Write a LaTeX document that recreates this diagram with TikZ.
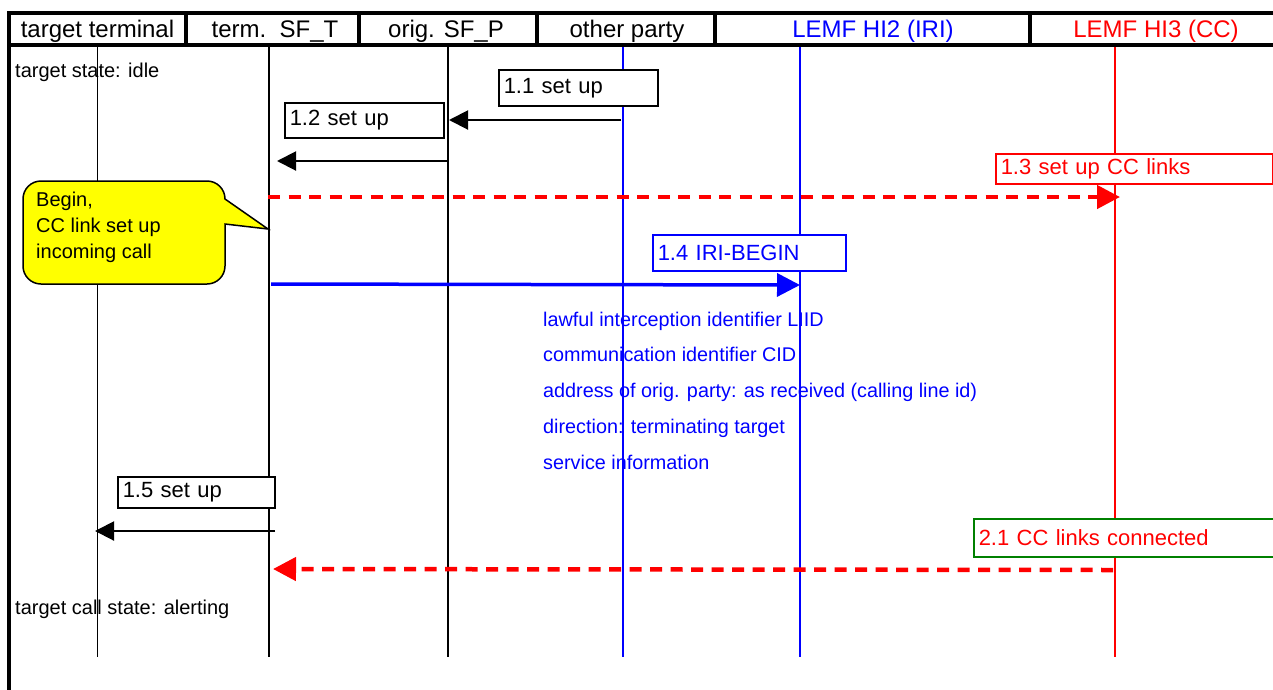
\documentclass[tikz,border=0pt]{standalone}
\usepackage{fontspec}
\setmainfont{Liberation Sans}
\usetikzlibrary{arrows.meta}
\definecolor{cblue}{RGB}{0,0,255}
\definecolor{cred}{RGB}{255,0,0}
\definecolor{cgreen}{RGB}{0,128,0}
\definecolor{cyellow}{RGB}{255,255,0}
\tikzset{
  hdr/.style={font=\fontsize{24}{28}\selectfont, anchor=base, inner sep=0pt},
  life/.style={line width=1.5pt},
  frameline/.style={line width=4.5pt},
  divider/.style={line width=3.5pt},
  msgbox/.style={draw, fill=white, line width=1.5pt, anchor=north west, align=left,
    inner xsep=5pt, inner ysep=0pt, font=\fontsize{22}{26}\selectfont},
  note/.style={font=\fontsize{20}{24}\selectfont, inner sep=0pt, anchor=base west},
  blackarrow/.style={line width=2pt, -{Triangle[length=19pt,width=19pt]}},
  redarrow/.style={draw=cred, line width=4.5pt, dash pattern=on 12pt off 8.5pt,
    -{Triangle[length=23pt,width=23pt]}},
  bluearrow/.style={draw=cblue, line width=3.5pt, -{Triangle[length=23pt,width=23pt]}},
}
\begin{document}
\begin{tikzpicture}[x=1pt,y=-1pt]
\useasboundingbox (0,0) rectangle (1273,689);
\clip (0,0) rectangle (1273,689);

% frame and header
\draw[frameline] (9,13) -- (1290,13);
\draw[line width=4pt] (9,45) -- (1290,45);
\draw[frameline] (9,11) -- (9,700);
\foreach \xx in {186,359,537,715,1030}
  \draw[divider] (\xx,13) -- (\xx,45);

\node[hdr] (hTT) at (97.5,37) {target terminal};
\node[hdr] (hST) at (275,37) {term.\ \ SF\_T};
\node[hdr] (hSP) at (446,37) {orig. SF\_P};
\node[hdr] (hOP) at (627,37) {other party};
\node[hdr, text=cblue] (hH2) at (873,37) {LEMF HI2 (IRI)};
\node[hdr, text=cred] (hH3) at (1156,37) {LEMF HI3 (CC)};

% lifelines
\coordinate (TTt) at (97.5,47);  \coordinate (TTb) at (97.5,657);
\coordinate (STt) at (269,47);   \coordinate (STb) at (269,657);
\coordinate (SPt) at (448,47);   \coordinate (SPb) at (448,657);
\coordinate (OPt) at (623,47);   \coordinate (OPb) at (623,657);
\coordinate (H2t) at (800,47);   \coordinate (H2b) at (800,657);
\coordinate (H3t) at (1115,47);  \coordinate (H3b) at (1115,657);
\draw[life] (TTt) -- (TTb);
\draw[life] (STt) -- (STb);
\draw[life] (SPt) -- (SPb);
\draw[life, cblue] (OPt) -- (OPb);
\draw[life, cblue] (H2t) -- (H2b);
\draw[life, cred] (H3t) -- (H3b);

% state texts
\node[note] (s1) at (15,77) {target state: idle};
\node[note] (s2) at (15,614) {target call state: alerting};

% message boxes
\node[msgbox, text width=149pt, minimum height=36pt] (b11) at (498,69) {1.1 set up};
\node[msgbox, text width=149pt, minimum height=35pt] (b12) at (284,102) {1.2 set up};
\node[msgbox, draw=cred, text=cred, text width=267pt, minimum height=30pt] (b13) at (995,153) {1.3 set up CC links};
\node[msgbox, draw=cblue, text=cblue, text width=183pt, minimum height=36pt] (b14) at (652,234) {1.4 IRI-BEGIN};
\node[msgbox, text width=147pt, minimum height=31pt] (b15) at (117,476) {1.5 set up};
\node[msgbox, draw=cgreen, text=cred, text width=300pt, minimum height=38pt] (b21) at (973,518) {2.1 CC links connected};

% arrow end points on lifelines
\coordinate (a11s) at (621,120);  \coordinate (a11e) at (449,120);
\coordinate (a12s) at (448,161);  \coordinate (a12e) at (277,161);
\coordinate (a13s) at (268,197);  \coordinate (a13e) at (1120,197);
\coordinate (a14s) at (271,284);  \coordinate (a14e) at (800,285);
\coordinate (a15s) at (275,531);  \coordinate (a15e) at (95,531);
\coordinate (a21s) at (1113,570); \coordinate (a21e) at (273,569);

\draw[blackarrow] (a11s) -- (a11e);
\draw[blackarrow] (a12s) -- (a12e);
\draw[redarrow] (a13s) -- (a13e);
\draw[bluearrow] (a14s) -- (a14e);
\draw[blackarrow] (a15s) -- (a15e);
\draw[redarrow] (a21s) -- (a21e);

% callout
\draw[fill=cyellow, line width=1.5pt]
  (41,181) -- (207,181) arc[start angle=90,end angle=0,radius=18pt]
  -- (268,229) -- (225,224) -- (225,266) arc[start angle=0,end angle=-90,radius=18pt]
  -- (41,284) arc[start angle=270,end angle=180,radius=18pt]
  -- (23,199) arc[start angle=180,end angle=90,radius=18pt] -- cycle;
\node[font=\fontsize{20}{26}\selectfont, align=left, anchor=north west, inner sep=0pt]
  (cotext) at (36,191.5) {Begin,\\CC link set up\\incoming call};

% IRI content
\node[font=\fontsize{19.8}{35.8}\selectfont, text=cblue, align=left, anchor=north west, inner sep=0pt]
  (iri) at (543,311.5) {lawful interception identifier LIID\\
  communication identifier CID\\
  address of orig. party: as received (calling line id)\\
  direction: terminating target\\
  service information};
\end{tikzpicture}
\end{document}
